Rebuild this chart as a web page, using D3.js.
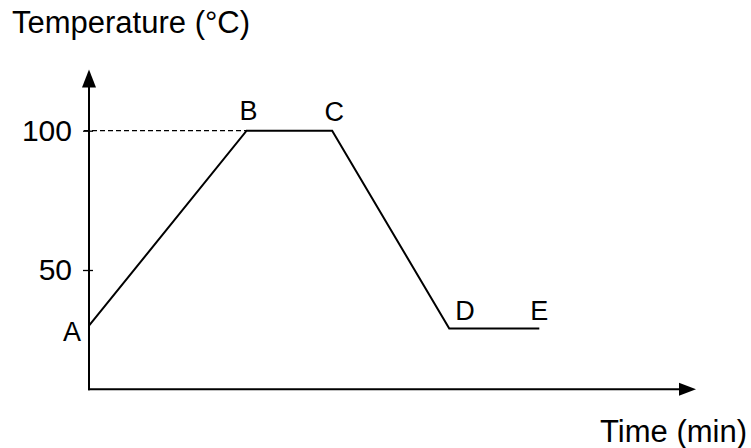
<!DOCTYPE html>
<html>
<head>
<meta charset="utf-8">
<script src="https://cdn.jsdelivr.net/npm/d3@7"></script>
<style>
  html, body { margin: 0; padding: 0; background: #fff; }
  svg { display: block; }
  text { font-family: "Liberation Sans", Arial, Helvetica, sans-serif; fill: #000; }
</style>
</head>
<body>
<svg id="chart" width="751" height="448"></svg>
<script>
// ---- data ----
const pointLabels = ["A", "B", "C", "D", "E"];
const times = [0, 17.5, 27, 40, 50];          // min (schematic)
const temps = [30, 100, 100, 29, 29];          // °C
const yTickValues = [50, 100];
const yTickLabels = ["50", "100"];
const yTitle = "Temperature (°C)";
const xTitle = "Time (min)";
const xMax = 67.4;     // end of time axis (arrow tip)
const yBase = 7.2;     // temperature at the time axis
const yTop = 122;      // temperature at the arrow tip of the temperature axis

// ---- layout ----
const svg = d3.select("#chart");
const x = d3.scaleLinear().domain([0, xMax]).range([89, 696]);
const y = d3.scaleLinear().domain([0, 100]).range([409.3, 130.7]);

const stroke = "#000";

// y axis ticks via d3 axis
const yAxis = d3.axisLeft(y)
  .tickValues(yTickValues)
  .tickFormat((d, i) => yTickLabels[i])
  .tickSizeInner(6)
  .tickSizeOuter(0)
  .tickPadding(11);

const gy = svg.append("g").attr("transform", `translate(${x(0)},0)`).call(yAxis);
gy.select(".domain").remove();
gy.selectAll(".tick line").attr("x1", 4).attr("x2", -6).attr("stroke", stroke).attr("stroke-width", 1.3);
gy.selectAll(".tick text")
  .style("font-size", "30px")
  .style("font-family", '"Liberation Sans", Arial, sans-serif')
  .attr("fill", "#000");

// axis lines
svg.append("line")
  .attr("x1", x(0)).attr("x2", x(0))
  .attr("y1", y(yBase) + 1).attr("y2", y(yTop) + 14)
  .attr("stroke", stroke).attr("stroke-width", 2);
svg.append("line")
  .attr("x1", x(0) - 1).attr("x2", x(xMax) - 14)
  .attr("y1", y(yBase)).attr("y2", y(yBase))
  .attr("stroke", stroke).attr("stroke-width", 2);

// arrow heads
const ax = x(0), ay = y(yTop);
svg.append("path")
  .attr("d", `M${ax},${ay} L${ax - 7},${ay + 18} L${ax + 7},${ay + 18} Z`)
  .attr("fill", stroke);
const bx = x(xMax), by = y(yBase);
svg.append("path")
  .attr("d", `M${bx},${by} L${bx - 17},${by - 6.5} L${bx - 17},${by + 6.5} Z`)
  .attr("fill", stroke);

// dashed reference line at 100
const bIdx = 1;
svg.append("line")
  .attr("x1", x(0) - 5).attr("x2", x(times[bIdx]))
  .attr("y1", y(temps[bIdx])).attr("y2", y(temps[bIdx]))
  .attr("stroke", stroke).attr("stroke-width", 1.2)
  .attr("stroke-dasharray", "5,3");

// the curve
const pts = times.map((t, i) => ({ t, v: temps[i], label: pointLabels[i] }));
const line = d3.line().x(d => x(d.t)).y(d => y(d.v));
svg.append("path")
  .datum(pts)
  .attr("d", line)
  .attr("fill", "none")
  .attr("stroke", stroke)
  .attr("stroke-width", 2)
  .attr("stroke-linejoin", "miter");

// point labels
const labelOffsets = {
  A: { dx: -8, dy: 15, anchor: "end" },
  B: { dx: 2, dy: -11, anchor: "middle" },
  C: { dx: 2, dy: -10, anchor: "middle" },
  D: { dx: 6, dy: -9, anchor: "start" },
  E: { dx: 0, dy: -9, anchor: "middle" }
};
svg.selectAll("text.pt")
  .data(pts)
  .enter().append("text")
  .attr("class", "pt")
  .attr("x", d => x(d.t) + labelOffsets[d.label].dx)
  .attr("y", d => y(d.v) + labelOffsets[d.label].dy)
  .attr("text-anchor", d => labelOffsets[d.label].anchor)
  .style("font-size", "27px")
  .text(d => d.label);

// titles
svg.append("text")
  .attr("x", 12).attr("y", 33)
  .style("font-size", "31px")
  .text(yTitle);
svg.append("text")
  .attr("x", 747).attr("y", 442)
  .attr("text-anchor", "end")
  .style("font-size", "31px")
  .text(xTitle);
</script>
</body>
</html>
